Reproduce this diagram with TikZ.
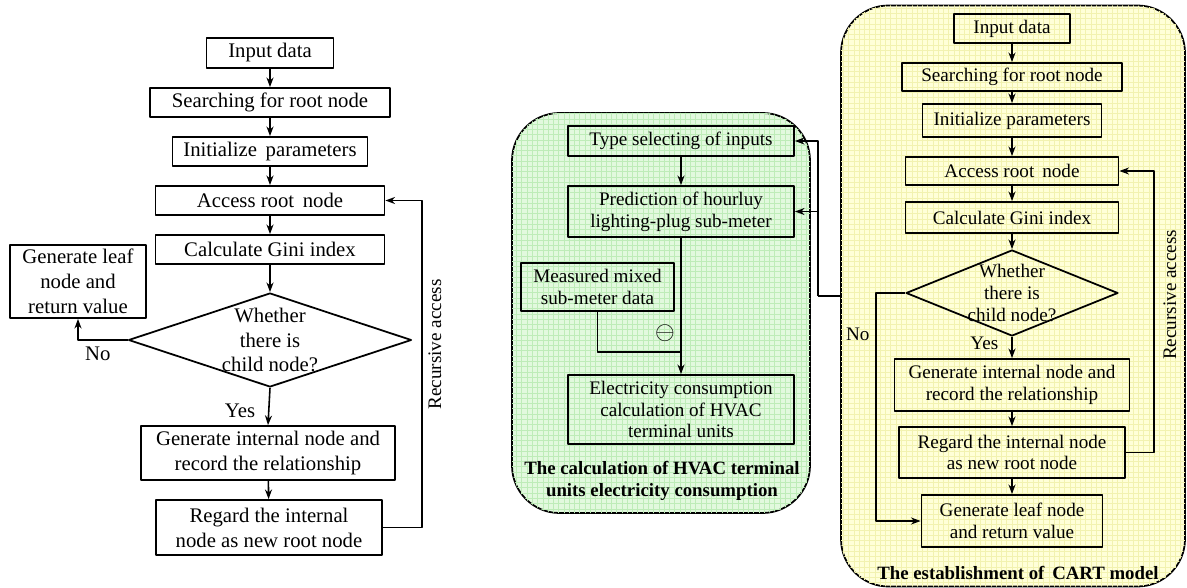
\documentclass[tikz,border=0pt]{standalone}
\usepackage{fontspec}
\setmainfont{Liberation Serif}
\usetikzlibrary{shapes.geometric,patterns,arrows.meta}
\definecolor{hvacfill}{RGB}{226,249,222}
\definecolor{hvacgrid}{RGB}{190,236,184}
\definecolor{cartfill}{RGB}{255,255,216}
\definecolor{cartgrid}{RGB}{242,242,176}
\definecolor{tipgreen}{RGB}{20,70,20}
\tikzset{
  box/.style={draw, line width=1pt, align=center, inner sep=0pt},
  sz/.style 2 args={minimum width=#1*0.02cm, minimum height=#2*0.02cm},
  lfont/.style={font=\fontsize{11.8}{14.2}\selectfont},
  rfont/.style={font=\fontsize{10.9}{12.4}\selectfont},
  decision/.style={draw, diamond, line width=1pt, inner sep=0pt},
  panel/.style={draw, line width=1pt, rounded corners=.95cm, inner sep=0pt},
  captext/.style={align=center, font=\fontsize{10.7}{12.5}\selectfont\bfseries},
}
\begin{document}
\begin{tikzpicture}[x=0.02cm, y=-0.02cm, >={Stealth[length=5.5pt,width=4pt]}, line width=.9pt, line join=round]
\useasboundingbox (0,0) rectangle (1187,588);
% left: CART flow chart
\node[box, lfont, sz={127}{30}] (in1) at (270,53) {Input data};
\node[box, lfont, sz={240}{29}] (sr1) at (270,102.5) {Searching for root node};
\node[box, lfont, sz={195}{29}] (ip1) at (270,151.5) {Initialize\, parameters};
\node[box, lfont, sz={229}{29}] (ac1) at (270,200.5) {Access root\, node};
\node[box, lfont, sz={229}{29}] (gi1) at (270,249.5) {Calculate Gini index};
\node[decision, sz={283}{94}, label={[lfont, align=center]center:Whether\\there is\\child node?}] (dc1) at (270,340) {};
\node[box, lfont, sz={254}{54}] (gn1) at (268,453) {Generate internal node and\\record the relationship};
\node[box, lfont, sz={226}{55}] (rg1) at (269,527.5) {Regard the internal\\node as new root node};
\node[box, lfont, sz={136}{73}] (lf1) at (78,281.5) {Generate leaf\\node and\\return value};
\foreach \a/\b in {in1/sr1, sr1/ip1, ip1/ac1, ac1/gi1, gi1/dc1, gn1/rg1}
  \draw[->] (\a)--(\b);
\draw[->] (dc1.south)--(gn1.north) node[pos=.62, left=4pt, lfont]{Yes};
\draw[->] (dc1.west) -| (lf1.south) node[pos=.3, below, lfont]{No};
\draw[->] (rg1.east) -- ++(39,0) |- (ac1.east) node[pos=.28, rotate=90, below, rfont]{Recursive access};

% middle: HVAC terminal units
\node[panel, fill=hvacfill, postaction={pattern=grid, pattern color=hvacgrid}, sz={298}{400}] (hvac) at (661,313) {};
\node[box, rfont, sz={226}{30}] (tp1) at (681,141) {Type selecting of inputs};
\node[box, rfont, sz={226}{51}] (tp2) at (681,211.5) {Prediction of hourluy\\lighting-plug sub-meter};
\node[box, rfont, sz={153}{48}] (ms) at (597.5,287) {Measured mixed\\sub-meter data};
\node[box, rfont, sz={226}{69}] (el) at (681,409.5) {Electricity consumption\\calculation of HVAC\\terminal units};
\node[captext] (hvaccap) at (662,481) {The calculation of HVAC terminal\\units electricity consumption};
\node[font=\fontsize{14}{14}\selectfont] (minus) at (665,333) {$\ominus$};
\coordinate (mj) at (681,352);
\draw[->] (tp1)--(tp2);
\draw[->] (tp2)--(el);
\draw (ms.south) |- (mj);

% right: CART model
\node[panel, fill=cartfill, postaction={pattern=grid, pattern color=cartgrid}, sz={344}{581}] (cart) at (1013,296) {};
\node[box, rfont, sz={116}{29}] (in2) at (1012,28.5) {Input data};
\node[box, rfont, sz={220}{28}] (sr2) at (1012,77) {Searching for root node};
\node[box, rfont, sz={179}{33}] (ip2) at (1012,120.5) {Initialize parameters};
\node[box, rfont, sz={213}{28}] (ac2) at (1012,171) {Access root\, node};
\node[box, rfont, sz={213}{31}] (gi2) at (1012,217.5) {Calculate Gini index};
\node[decision, sz={212}{86}, label={[rfont, align=center]center:Whether\\there is\\child node?}] (dc2) at (1012,293) {};
\node[box, rfont, sz={235}{52}] (gn2) at (1012,385) {Generate internal node and\\record the relationship};
\node[box, rfont, sz={226}{51}] (rg2) at (1012,452.5) {Regard the internal node\\as new root node};
\node[box, rfont, sz={181}{52}] (lf2) at (1012,521) {Generate leaf node\\and return value};
\node[captext] (cartcap) at (1018,573) {The establishment of\, CART model};
\foreach \a/\b in {in2/sr2, sr2/ip2, ip2/ac2, ac2/gi2, gi2/dc2, gn2/rg2, rg2/lf2}
  \draw[->] (\a)--(\b);
\draw[->] (dc2.south)--(gn2.north) node[pos=.3, left=4pt, rfont]{Yes};
\draw[->] (dc2.west) -- ++(-29,0) |- (lf2.west) node[pos=.09, left, rfont]{No};
\draw[->] (rg2.east) -- ++(28,0) |- (ac2.east) node[pos=.28, rotate=90, below, inner sep=5pt, rfont]{Recursive access};

% link between the two panels
\coordinate (sp) at (818,296);
\draw (cart.west)--(sp);
\draw[-{Stealth[length=5.5pt,width=4pt,fill=tipgreen]}] (sp) |- (tp1.east);
\draw[-{Stealth[length=5.5pt,width=4pt,fill=tipgreen]}] (sp |- tp2.east)--(tp2.east);
\end{tikzpicture}
\end{document}
